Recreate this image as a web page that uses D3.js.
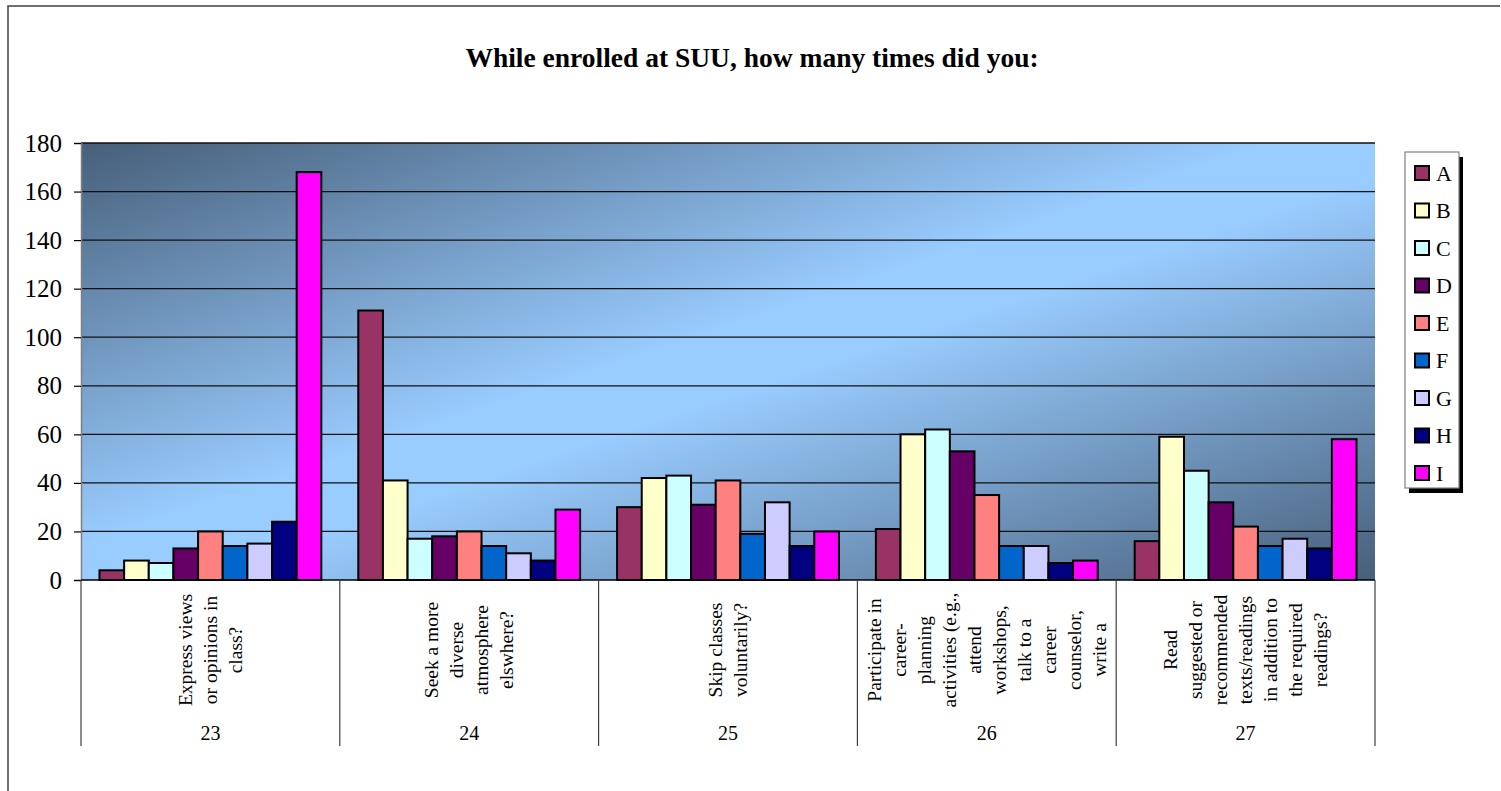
<!DOCTYPE html>
<html>
<head>
<meta charset="utf-8">
<script src="https://cdnjs.cloudflare.com/ajax/libs/d3/7.8.5/d3.min.js"></script>
<style>
html,body{margin:0;padding:0;background:#fff;}
svg{display:block;font-family:"Liberation Serif","Times New Roman",serif;}
</style>
</head>
<body>
<svg id="chart" width="1501" height="791"></svg>
<script>
// ---- data ----
const categories = ["23","24","25","26","27"];
const categoryText = [
  ["Express views","or opinions in","class?"],
  ["Seek a more","diverse","atmosphere","elswhere?"],
  ["Skip classes","voluntarily?"],
  ["Participate in","career-","planning","activities (e.g.,","attend","workshops,","talk to a","career","counselor,","write a"],
  ["Read","suggested or","recommended","texts/readings","in addition to","the required","readings?"]
];
const seriesNames = ["A","B","C","D","E","F","G","H","I"];
const seriesColors = ["#993366","#FFFFCC","#CCFFFF","#660066","#FF8080","#0066CC","#CCCCFF","#000080","#FF00FF"];
const A = [4,111,30,21,16];
const B = [8,41,42,60,59];
const C = [7,17,43,62,45];
const D = [13,18,31,53,32];
const E = [20,20,41,35,22];
const F = [14,14,19,14,14];
const G = [15,11,32,14,17];
const H = [24,8,14,7,13];
const I = [168,29,20,8,58];
const seriesValues = [A,B,C,D,E,F,G,H,I];
const yTicks = [0,20,40,60,80,100,120,140,160,180];
const title = "While enrolled at SUU, how many times did you:";

// ---- layout ----
const svg = d3.select("#chart");
const plot = {left:81, right:1375, top:143, bottom:580};

// outer frame
svg.append("path").attr("d","M8,791 L8,6 L1500,6")
  .attr("fill","none").attr("stroke","#404040").attr("stroke-width",1.5);

// title
svg.append("text").attr("x",752).attr("y",67).attr("text-anchor","middle")
  .attr("font-size",27.5).attr("font-weight","bold").text(title);

// gradient
const defs = svg.append("defs");
const grad = defs.append("linearGradient").attr("id","bg")
  .attr("x1",0).attr("y1",0).attr("x2",1).attr("y2",1);
grad.append("stop").attr("offset","0").attr("stop-color","#475f7a");
grad.append("stop").attr("offset","0.46").attr("stop-color","#99ccff");
grad.append("stop").attr("offset","0.54").attr("stop-color","#99ccff");
grad.append("stop").attr("offset","1").attr("stop-color","#475f7a");

const x0 = d3.scaleBand().domain(categories).range([plot.left,plot.right]).padding(0);
const x1 = d3.scaleBand().domain(seriesNames).range([0,x0.bandwidth()]).paddingInner(0).paddingOuter(0.75);
const y = d3.scaleLinear().domain([0,180]).range([plot.bottom,plot.top]);

svg.append("rect").attr("x",plot.left).attr("y",plot.top)
  .attr("width",plot.right-plot.left).attr("height",plot.bottom-plot.top)
  .attr("fill","url(#bg)");

// gridlines
svg.append("g").selectAll("line").data(yTicks.filter(d=>d>0)).join("line")
  .attr("x1",plot.left).attr("x2",plot.right)
  .attr("y1",d=>y(d)).attr("y2",d=>y(d))
  .attr("stroke","#111").attr("stroke-width",1.3);

// y axis
const yAxis = d3.axisLeft(y).tickValues(yTicks).tickSize(7).tickPadding(12);
const gy = svg.append("g").attr("transform",`translate(${plot.left},0)`).call(yAxis);
gy.select(".domain").attr("stroke","#808080").attr("stroke-width",1.5);
gy.selectAll(".tick line").attr("stroke","#000").attr("stroke-width",1.2);
gy.selectAll(".tick text").attr("font-size",25).attr("font-family","Liberation Serif, Times New Roman, serif").attr("fill","#000");

// bars
const groups = svg.append("g").selectAll("g").data(categories).join("g")
  .attr("transform",d=>`translate(${x0(d)},0)`);
groups.selectAll("rect").data((d,ci)=>seriesNames.map((s,si)=>({s,si,v:seriesValues[si][ci]})))
  .join("rect")
  .attr("x",d=>x1(d.s)).attr("width",x1.bandwidth())
  .attr("y",d=>y(d.v)).attr("height",d=>y(0)-y(d.v))
  .attr("fill",d=>seriesColors[d.si])
  .attr("stroke","#000").attr("stroke-width",2);

// category axis area
svg.append("line").attr("x1",plot.left).attr("x2",plot.right)
  .attr("y1",plot.bottom).attr("y2",plot.bottom)
  .attr("stroke","#000").attr("stroke-width",1.5);
const bounds = categories.map(c=>x0(c)).concat([plot.right]);
svg.append("g").selectAll("line").data(bounds).join("line")
  .attr("x1",d=>d).attr("x2",d=>d).attr("y1",plot.bottom).attr("y2",746)
  .attr("stroke","#404040").attr("stroke-width",1.2);

const lineGap = 25;
categories.forEach((c,ci)=>{
  const cx = x0(c)+x0.bandwidth()/2;
  const lines = categoryText[ci];
  const t = svg.append("text")
    .attr("transform",`translate(${cx},650) rotate(-90)`)
    .attr("text-anchor","middle").attr("font-size",19.5);
  lines.forEach((ln,li)=>{
    t.append("tspan").attr("x",0)
      .attr("y",(li-(lines.length-1)/2)*lineGap)
      .attr("dominant-baseline","central").text(ln);
  });
  svg.append("text").attr("x",cx).attr("y",740).attr("text-anchor","middle")
    .attr("font-size",20).text(c);
});

// legend
const lg = svg.append("g");
lg.append("rect").attr("x",1409).attr("y",157).attr("width",54).attr("height",336).attr("fill","#000");
lg.append("rect").attr("x",1405).attr("y",152).attr("width",54).attr("height",336)
  .attr("fill","#fff").attr("stroke","#808080").attr("stroke-width",1.2);
const ly = d3.scalePoint().domain(seriesNames).range([173,473]);
const items = lg.selectAll("g.it").data(seriesNames).join("g").attr("class","it")
  .attr("transform",d=>`translate(0,${ly(d)})`);
items.append("rect").attr("x",1415).attr("y",-7).attr("width",14).attr("height",14)
  .attr("fill",(d,i)=>seriesColors[i]).attr("stroke","#000").attr("stroke-width",2);
items.append("text").attr("x",1436).attr("y",0).attr("dominant-baseline","central")
  .attr("font-size",22).text(d=>d);
</script>
</body>
</html>
